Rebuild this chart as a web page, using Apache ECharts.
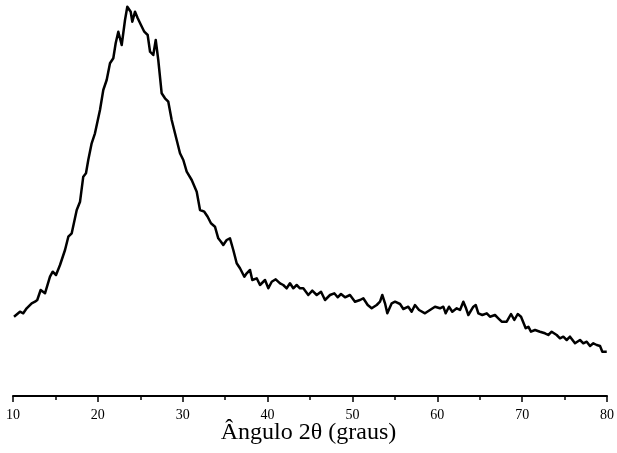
<!DOCTYPE html>
<html>
<head>
<meta charset="utf-8">
<script src="https://cdn.jsdelivr.net/npm/echarts@6/dist/echarts.min.js"></script>
<style>
  html, body { margin: 0; padding: 0; background: #fff; }
  #chart { width: 617px; height: 453px; }
</style>
</head>
<body>
<div id="chart"></div>
<script>
// Diffraction scan: 2θ angle (degrees) and relative intensity (arbitrary units)
const angle = [
  10.12, 10.82, 11.21, 11.61, 12.20, 12.59, 12.86, 13.26, 13.77, 14.36,
  14.68, 15.07, 15.54, 16.13, 16.52, 16.92, 17.51, 17.90, 18.28, 18.60,
  18.87, 19.27, 19.66, 20.25, 20.64, 21.04, 21.43, 21.82, 22.10, 22.41,
  22.81, 23.20, 23.47, 23.87, 24.06, 24.38, 24.70, 25.08, 25.47, 25.87,
  26.15, 26.53, 26.82, 27.12, 27.52, 27.91, 28.30, 28.70, 29.29, 29.68,
  30.07, 30.47, 31.06, 31.65, 32.04, 32.54, 32.94, 33.33, 33.80, 34.19,
  34.51, 34.78, 35.18, 35.57, 35.96, 36.36, 36.75, 37.26, 37.54, 37.93,
  38.20, 38.72, 39.11, 39.70, 40.09, 40.49, 40.96, 41.47, 41.85, 42.25,
  42.64, 43.03, 43.43, 43.82, 44.21, 44.80, 45.27, 45.79, 46.30, 46.77,
  47.36, 47.86, 48.26, 48.65, 49.13, 49.71, 50.30, 50.89, 51.28, 51.80,
  52.27, 52.86, 53.25, 53.52, 53.84, 54.11, 54.63, 55.02, 55.61, 56.00,
  56.58, 56.98, 57.37, 57.85, 58.55, 59.14, 59.73, 60.32, 60.71, 60.99,
  61.38, 61.77, 62.29, 62.68, 63.07, 63.39, 63.66, 64.25, 64.53, 64.84,
  65.31, 65.83, 66.21, 66.80, 67.19, 67.59, 68.18, 68.69, 69.08, 69.48,
  69.87, 70.42, 70.73, 71.04, 71.52, 72.10, 72.69, 73.08, 73.48, 74.07,
  74.46, 74.85, 75.25, 75.64, 76.23, 76.82, 77.21, 77.61, 78.00, 78.39,
  78.79, 79.18, 79.45, 79.97
];
const intensity = [
  79.3, 84.3, 82.7, 87.7, 92.7, 94.3, 96.0, 106.0, 102.7, 119.3,
  124.3, 121.0, 131.0, 146.0, 159.3, 162.7, 186.0, 194.3, 219.3, 222.7,
  236.0, 252.7, 262.7, 286.0, 306.0, 316.0, 332.7, 337.7, 352.7, 364.3,
  351.0, 376.0, 389.3, 384.3, 374.3, 384.3, 377.7, 371.0, 364.3, 361.0,
  344.3, 341.0, 356.0, 336.0, 302.7, 297.7, 294.3, 276.0, 256.0, 242.7,
  236.0, 224.3, 216.0, 204.3, 186.0, 184.3, 179.3, 172.7, 169.3, 157.7,
  154.3, 151.0, 156.0, 157.7, 146.0, 132.7, 127.7, 119.3, 122.7, 126.0,
  116.0, 117.7, 111.0, 116.0, 107.7, 114.3, 116.7, 112.7, 111.0, 107.7,
  112.7, 107.7, 111.0, 107.7, 107.7, 101.0, 105.3, 101.0, 104.3, 96.0,
  101.0, 102.7, 98.7, 102.0, 98.7, 101.0, 94.3, 96.0, 97.7, 91.0,
  87.7, 91.0, 94.3, 101.0, 92.7, 82.7, 92.7, 94.3, 92.0, 87.0,
  89.3, 84.3, 91.0, 86.0, 82.7, 86.0, 89.3, 87.7, 89.3, 82.7,
  89.3, 84.3, 87.7, 86.0, 94.3, 87.7, 81.0, 89.3, 91.0, 82.7,
  81.0, 82.7, 79.3, 81.0, 77.7, 74.3, 74.3, 82.0, 76.0, 82.0,
  79.3, 67.7, 69.3, 64.3, 66.0, 64.3, 62.7, 61.0, 64.3, 61.0,
  57.7, 59.3, 56.0, 59.3, 52.7, 56.0, 52.7, 54.3, 50.0, 52.7,
  51.0, 50.0, 44.3, 44.3
];
const xTicks = { min: 10, max: 80, step: 10 };
const xTitle = 'Ângulo 2θ (graus)';

const serif = '"Liberation Serif", "DejaVu Serif", serif';
const chart = echarts.init(document.getElementById('chart'), null, { renderer: 'canvas' });

chart.setOption({
  animation: false,
  backgroundColor: '#fff',
  title: {
    text: xTitle,
    left: 'center',
    top: 421,
    padding: 0,
    textStyle: { fontFamily: serif, fontSize: 24, fontWeight: 'normal', color: '#000' }
  },
  grid: { left: 13, right: 10, top: 0, bottom: 54.5, containLabel: false },
  xAxis: {
    type: 'value',
    min: xTicks.min,
    max: xTicks.max,
    interval: xTicks.step,
    axisLine: { show: true, lineStyle: { color: '#000', width: 2 } },
    axisTick: { show: true, length: 6, lineStyle: { color: '#000', width: 1.5 } },
    minorTick: { show: true, splitNumber: 2, length: 4, lineStyle: { color: '#000', width: 1.5 } },
    axisLabel: { color: '#000', fontFamily: serif, fontSize: 14, margin: 10 },
    splitLine: { show: false }
  },
  yAxis: {
    type: 'value',
    min: -2.5,
    max: 396,
    show: false
  },
  series: [{
    type: 'line',
    data: angle.map((a, i) => [a, intensity[i]]),
    showSymbol: false,
    symbol: 'none',
    lineStyle: { color: '#000', width: 2.5, join: 'round' },
    silent: true
  }]
});
</script>
</body>
</html>
